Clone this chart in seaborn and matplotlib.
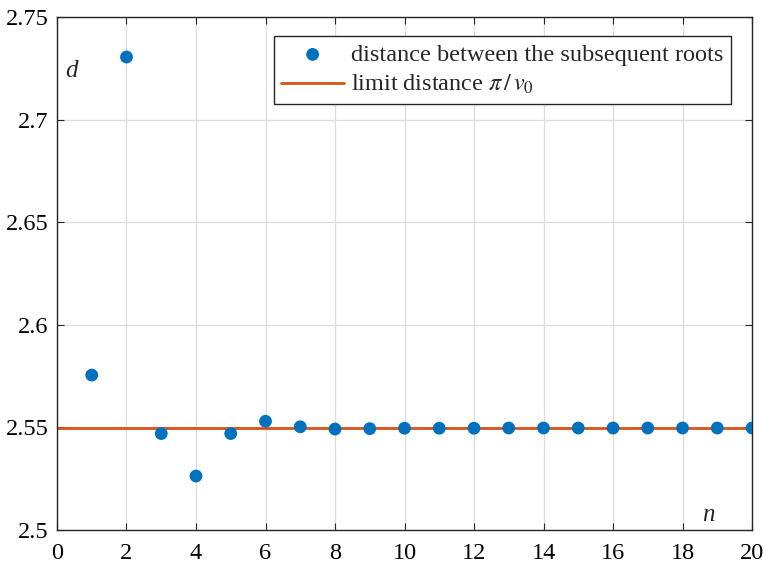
import matplotlib
matplotlib.use("Agg")
import matplotlib.pyplot as plt
import seaborn as sns
import pandas as pd

# Distance between subsequent roots, indexed by root number n
n_values = list(range(1, 21))
distances = [2.5755, 2.7305, 2.5470, 2.5263, 2.5470, 2.5530, 2.5503, 2.5492,
             2.5494, 2.5496, 2.5496, 2.5496, 2.5497, 2.5497, 2.5497, 2.5497,
             2.5497, 2.5497, 2.5497, 2.5497]
limit_distance = 2.5499

x_ticks = list(range(0, 21, 2))
y_ticks = [2.5, 2.55, 2.6, 2.65, 2.7, 2.75]
y_tick_labels = ["2.5", "2.55", "2.6", "2.65", "2.7", "2.75"]

sns.set_theme(style="whitegrid")
plt.rcParams["font.family"] = ["Liberation Serif", "DejaVu Serif"]
plt.rcParams["mathtext.fontset"] = "stix"

fig = plt.figure(figsize=(7.63, 5.66), dpi=100)
ax = fig.add_axes([0.0747, 0.0636, 0.9109, 0.9064])

df = pd.DataFrame({"n": n_values, "d": distances})
sns.scatterplot(data=df, x="n", y="d", ax=ax, color="#0072BD", s=85,
                edgecolor="none", zorder=3,
                label="distance between the subsequent roots")
ax.axhline(limit_distance, color="#D95319", lw=2, zorder=2,
           label=r"limit distance $\pi\,/\,v_0$")

ax.set_xlim(0, 20)
ax.set_ylim(2.5, 2.75)
ax.set_xticks(x_ticks)
ax.set_yticks(y_ticks)
ax.set_yticklabels(y_tick_labels)
ax.set_xlabel("")
ax.set_ylabel("")

ax.grid(True, color="#dcdcdc", lw=0.9)
for s in ax.spines.values():
    s.set_visible(True)
    s.set_color("#262626")
    s.set_linewidth(1.0)
ax.tick_params(axis="both", direction="in", length=5, width=0.8,
               colors="#262626", labelsize=17.5, labelcolor="black",
               top=True, right=True, bottom=True, left=True)
ax.tick_params(axis="x", pad=9)
ax.tick_params(axis="y", pad=6)

ax.text(0.012, 0.895, "d", transform=ax.transAxes, fontsize=18,
        style="italic", ha="left", va="center")
ax.text(0.928, 0.03, "n", transform=ax.transAxes, fontsize=18,
        style="italic", ha="left", va="center")

leg = ax.legend(loc="upper right", bbox_to_anchor=(0.97, 0.962),
                fontsize=17.5, frameon=True, fancybox=False, framealpha=1,
                edgecolor="#262626", borderpad=0.3, labelspacing=0.3,
                handlelength=2.6, handletextpad=0.3, borderaxespad=0)
leg.get_frame().set_linewidth(1.0)

fig.savefig("out.png", dpi=100)
